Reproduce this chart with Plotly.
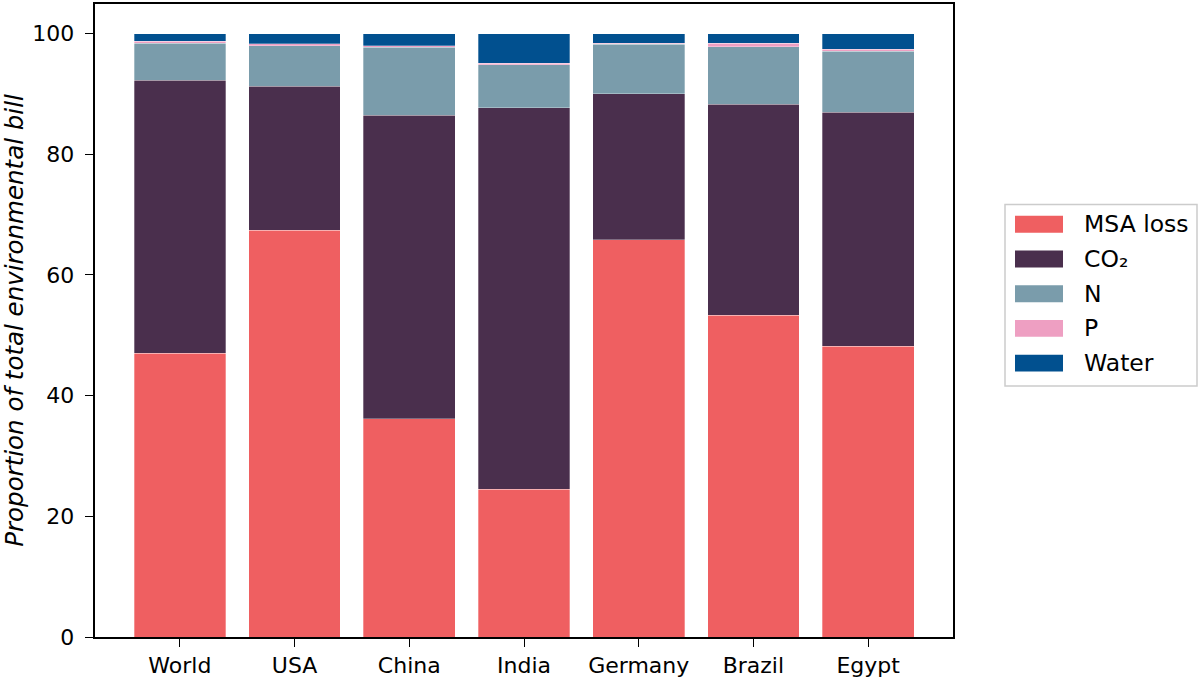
import plotly.graph_objects as go

categories = ["World", "USA", "China", "India", "Germany", "Brazil", "Egypt"]
msa_loss = [47.0, 67.4, 36.2, 24.5, 65.8, 53.3, 48.2]
co2 = [45.3, 23.9, 50.3, 63.2, 24.2, 35.0, 38.8]
n_vals = [6.1, 6.7, 11.2, 7.1, 8.2, 9.5, 10.1]
p_vals = [0.3, 0.3, 0.3, 0.3, 0.2, 0.6, 0.3]
water = [1.3, 1.7, 2.0, 4.9, 1.6, 1.6, 2.6]
y_tick_vals = [0, 20, 40, 60, 80, 100]
y_tick_labels = ["0", "20", "40", "60", "80", "100"]

series = [
    ("MSA loss", msa_loss, "#EF5F61"),
    ("CO\u2082", co2, "#4A2F4D"),
    ("N", n_vals, "#7A9CAB"),
    ("P", p_vals, "#EE9FC2"),
    ("Water", water, "#01508F"),
]

W, H = 1200, 680
ML, MR, MT, MB = 95, 247, 2, 40
PW, PH = W - ML - MR, H - MT - MB


def px_x(px):
    return (px - ML) / PW


def px_y(py):
    return (H - MB - py) / PH


fig = go.Figure()
for name, vals, color in series:
    fig.add_trace(go.Bar(
        x=categories, y=vals, name=name, showlegend=False,
        marker=dict(color=color, line=dict(color="rgba(255,255,255,0.5)", width=0.6)),
        width=0.8,
    ))

font = "DejaVu Sans, Liberation Sans, sans-serif"

# manual legend (box, wide swatches, labels)
shapes = [dict(
    type="rect", xref="paper", yref="paper",
    x0=px_x(1005), x1=px_x(1197), y0=px_y(387), y1=px_y(204),
    line=dict(color="#CCCCCC", width=1.5), fillcolor="white", layer="above",
)]
annotations = []
for i, (name, vals, color) in enumerate(series):
    cy = 224 + 35 * i
    shapes.append(dict(
        type="rect", xref="paper", yref="paper",
        x0=px_x(1015), x1=px_x(1063), y0=px_y(cy + 8.5), y1=px_y(cy - 8.5),
        line=dict(width=0), fillcolor=color, layer="above",
    ))
    annotations.append(dict(
        xref="paper", yref="paper", x=px_x(1082), y=px_y(cy),
        xanchor="left", yanchor="middle", text=name, showarrow=False,
        font=dict(size=23.5, family=font, color="black"),
    ))

fig.update_layout(
    barmode="stack",
    width=W, height=H,
    paper_bgcolor="white", plot_bgcolor="white",
    margin=dict(l=ML, r=MR, t=MT, b=MB),
    font=dict(family=font, size=22, color="black"),
    showlegend=False,
    shapes=shapes,
    annotations=annotations,
    xaxis=dict(
        range=[-0.74, 6.74], showline=True, linecolor="black", linewidth=1.5,
        mirror=True, ticks="outside", ticklen=8, tickcolor="black",
        showgrid=False, tickfont=dict(size=22),
    ),
    yaxis=dict(
        range=[0, 104.9], showline=True, linecolor="black", linewidth=1.5,
        mirror=True, ticks="outside", ticklen=8, tickcolor="black",
        showgrid=False, zeroline=False, tickvals=y_tick_vals,
        ticktext=[t + "\u2009\u200a" for t in y_tick_labels],
        tickfont=dict(size=22),
        title=dict(text="<i>Proportion of total environmental bill</i>", font=dict(size=24.5), standoff=6),
    ),
)

fig.write_html(
    "out.html",
    config={"displayModeBar": False},
    post_script="document.body.style.margin='0px';document.body.style.padding='0px';",
)
